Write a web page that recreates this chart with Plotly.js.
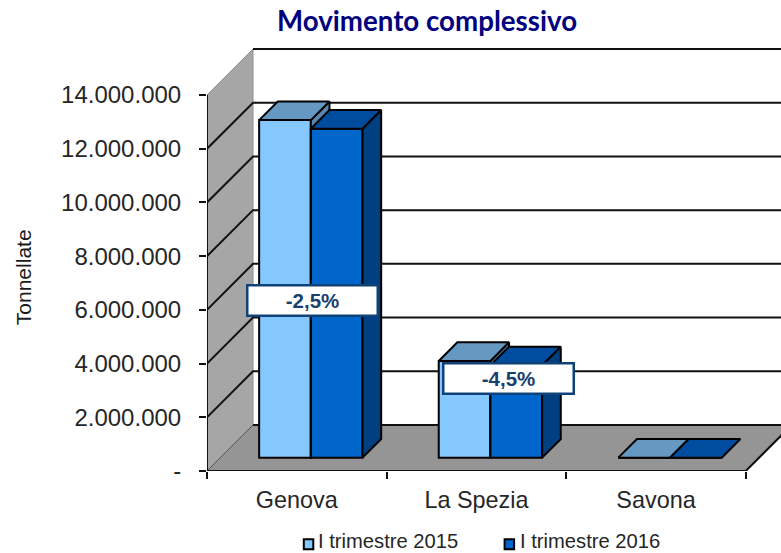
<!DOCTYPE html>
<html><head><meta charset="utf-8">
<script src="https://cdn.plot.ly/plotly-3.0.1.min.js"></script>
<style>html,body{margin:0;padding:0;background:#fff;overflow:hidden}</style>
</head><body><div id="chart" style="width:781px;height:553px"></div>
<script>
const categories = ['Genova', 'La Spezia', 'Savona'];
const series2015 = [12570000, 3600000, 0];
const series2016 = [12250000, 3440000, 0];
const seriesNames = ['I trimestre 2015', 'I trimestre 2016'];
const changeLabels = ['-2,5%', '-4,5%'];
const tickValues = [0, 2000000, 4000000, 6000000, 8000000, 10000000, 12000000, 14000000];
const tickLabels = ['-', '2.000.000', '4.000.000', '6.000.000', '8.000.000', '10.000.000', '12.000.000', '14.000.000'];
const yTitle = 'Tonnellate';
const colors2015 = {front: '#85C8FF', top: '#6699C2', side: '#5A86AE'};
const colors2016 = {front: '#0066CC', top: '#004C9E', side: '#003F80'};

// pixel frame of the plotting area
const L = 207, T = 40, Z = 470.7, W = 781, H = 553;
const pxPerCat = 179.6, pxPerUnit = 53.67 / 2000000;
const xRange = [-0.5, -0.5 + (W - L) / pxPerCat];
const yRange = [0, (Z - T) / pxPerUnit];
const DX = 46 / pxPerCat, DY = 46 / pxPerUnit;   // oblique depth of the box
const d0 = 0.29, d1 = 0.695;                     // front/back depth of the bars
const barW = 51.7 / pxPerCat, barNudge = 0.7 / pxPerCat;
const X0 = -0.5, X1 = 2.5, YT = 14000000;

const poly = pts => 'M' + pts.map(p => p[0] + ',' + p[1]).join('L');
const shapes = [];
shapes.push({type: 'path', xref: 'x', yref: 'y', layer: 'below', fillcolor: '#A6A6A6', line: {color: '#8f8f8f', width: 1},
  path: poly([[X0, 0], [X0, YT], [X0 + DX, YT + DY], [X0 + DX, DY]]) + 'Z'});
shapes.push({type: 'path', xref: 'x', yref: 'y', layer: 'below', fillcolor: '#959595', line: {color: '#555', width: 1},
  path: poly([[X0, 0], [X1, 0], [X1 + DX, DY], [X0 + DX, DY]]) + 'Z'});
tickValues.forEach(v => {
  const diag = v > 0 && v < YT;
  shapes.push({type: 'path', xref: 'x', yref: 'y', layer: 'below', line: {color: '#111', width: 2},
    path: diag ? poly([[X0, v], [X0 + DX, v + DY], [X1 + DX, v + DY]]) : poly([[X0 + DX, v + DY], [X1 + DX, v + DY]])});
});
shapes.push({type: 'path', xref: 'x', yref: 'y', layer: 'below', line: {color: '#111', width: 2},
  path: poly([[X1, 0], [X1 + DX, DY]])});

const fx = px => (px - L) / (W - L);
const fy = py => (Z - py) / (Z - T);
const annotations = [];
const legendSwatch = [303.8, 504.6], legendText = [316, 518], swatchColors = [colors2015.front, colors2016.front];
seriesNames.forEach((n, i) => {
  shapes.push({type: 'rect', xref: 'paper', yref: 'paper', x0: fx(legendSwatch[i]), x1: fx(legendSwatch[i] + 9.5),
    y0: fy(549), y1: fy(539), fillcolor: swatchColors[i], line: {color: '#000', width: 2}});
  annotations.push({xref: 'paper', yref: 'paper', x: fx(legendText[i]), y: fy(541), xanchor: 'left', yanchor: 'middle',
    showarrow: false, text: n, font: {family: 'Liberation Sans, Arial', size: 20.2, color: '#262626'}});
});
const boxCentre = [[0.089, 300.3], [1.178, 378.5]];
changeLabels.forEach((t, i) => {
  annotations.push({xref: 'x', yref: 'paper', x: boxCentre[i][0], y: fy(boxCentre[i][1]), xanchor: 'center', yanchor: 'middle',
    showarrow: false, text: '<b>' + t + '</b>', width: 126, height: 26, bgcolor: '#fff', bordercolor: '#0F4279', borderwidth: 2.5, borderpad: 1,
    font: {family: 'Liberation Sans, Arial', size: 20.5, color: '#17406F'}});
});
annotations.push({xref: 'paper', yref: 'paper', x: fx(23), y: fy(277), xanchor: 'center', yanchor: 'middle', textangle: -90,
  showarrow: false, text: yTitle, font: {family: 'Liberation Sans, Arial', size: 21, color: '#1a1a1a'}});

function faces(values, centreOffset, c, xa, ya) {
  const out = [];
  const mk = (pts, fill) => ({type: 'scatter', mode: 'lines', x: pts.map(p => p[0]), y: pts.map(p => p[1]), xaxis: xa, yaxis: ya,
    fill: 'toself', fillcolor: fill, line: {color: '#000', width: 2}, hoverinfo: 'skip', showlegend: false, cliponaxis: false});
  values.forEach((v, i) => {
    const a = i + d0 * DX + centreOffset + barNudge, b = a + barW;
    const yf = d0 * DY + v, ybot = d0 * DY;
    const ox = (d1 - d0) * DX, oy = (d1 - d0) * DY;
    if (v > 0) out.push(mk([[b, ybot], [b + ox, ybot + oy], [b + ox, yf + oy], [b, yf], [b, ybot]], c.side));
    out.push(mk([[a, yf], [b, yf], [b + ox, yf + oy], [a + ox, yf + oy], [a, yf]], c.top));
  });
  return out;
}
const bar = (values, name, centreOffset, c, xa, ya) => ({type: 'bar', name: name, x: values.map((v, i) => i + d0 * DX + centreOffset + barNudge + barW / 2),
  y: values, base: values.map(() => d0 * DY), width: barW, xaxis: xa, yaxis: ya,
  marker: {color: c.front, line: {color: '#000', width: 2}}, showlegend: false, cliponaxis: false});
const axisLine = (x, y) => ({type: 'scatter', mode: 'lines', x: x, y: y, line: {color: '#111', width: 2}, hoverinfo: 'skip', showlegend: false, cliponaxis: false});

const traces = [
  axisLine([X0, X0], [0, YT]),
  axisLine([X0, X1], [0, 0]),
  bar(series2015, seriesNames[0], -barW, colors2015, 'x', 'y'),
  ...faces(series2015, -barW, colors2015, 'x', 'y'),
  bar(series2016, seriesNames[1], 0, colors2016, 'x2', 'y2'),
  ...faces(series2016, 0, colors2016, 'x2', 'y2')
];

const layout = {
  width: W, height: H, autosize: false, showlegend: false, paper_bgcolor: '#fff', plot_bgcolor: 'rgba(0,0,0,0)',
  margin: {l: L, r: 0, t: T, b: H - Z, pad: 0},
  title: {text: '<b>Movimento complessivo</b>', xref: 'container', yref: 'container', x: 427 / W, y: 1 - 21 / H, xanchor: 'center', yanchor: 'middle',
    font: {family: 'Lato, Calibri', size: 27.7, color: '#00007F'}},
  xaxis: {range: xRange, tickmode: 'array', tickvals: categories.map((c, i) => i), ticktext: categories, ticks: 'outside', ticklen: 8, tickcolor: 'rgba(0,0,0,0)',
    showgrid: false, zeroline: false, showline: false, tickfont: {family: 'Liberation Sans, Arial', size: 23.4, color: '#262626'}},
  xaxis2: {range: xRange, overlaying: 'x', anchor: 'y', side: 'bottom', tickmode: 'array', tickvals: [X0, 0.5, 1.5, X1], showticklabels: false, ticks: 'outside', ticklen: 7, tickwidth: 2, tickcolor: '#111',
    showgrid: false, zeroline: false, showline: false},
  yaxis: {range: yRange, tickmode: 'array', tickvals: tickValues, ticktext: tickLabels, ticks: 'outside', ticklen: 7, tickwidth: 2, tickcolor: '#111', ticklabelstandoff: 13,
    showgrid: false, zeroline: false, showline: false, tickfont: {family: 'Liberation Sans, Arial', size: 24, color: '#262626'}},
  yaxis2: {range: yRange, overlaying: 'y', anchor: 'x', side: 'left', visible: false},
  shapes: shapes, annotations: annotations, bargap: 0
};
Plotly.newPlot('chart', traces, layout, {displayModeBar: false, staticPlot: true});
</script></body></html>
